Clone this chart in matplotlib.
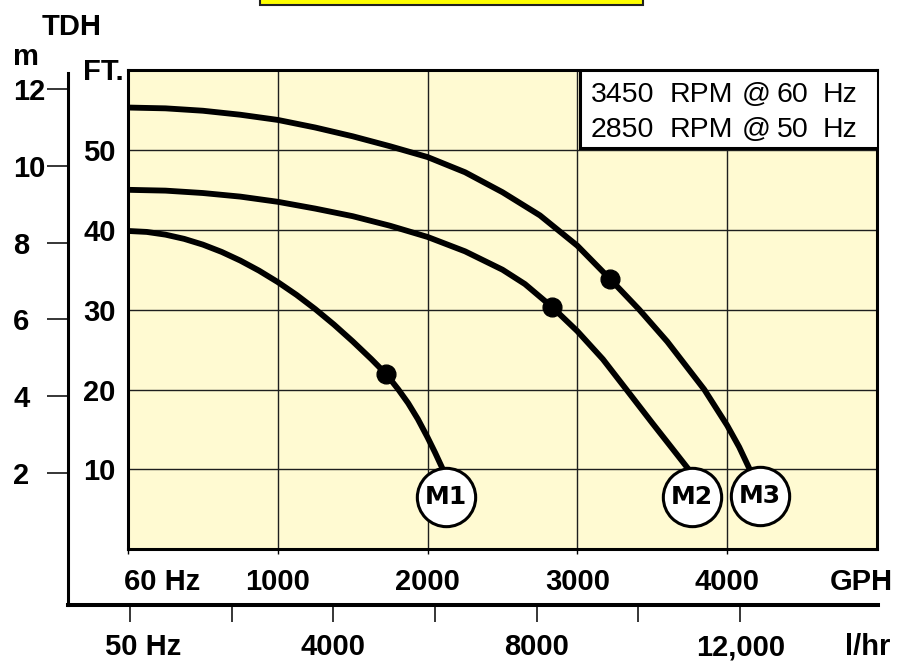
import matplotlib
matplotlib.use("Agg")
import matplotlib.pyplot as plt
import matplotlib.transforms as mtrans
from matplotlib.patches import Rectangle

# pump curves: flow (GPH) vs total head (FT)
m1_gph = [0, 125, 250, 375, 500, 625, 750, 875, 1000, 1125, 1250, 1375, 1500, 1625,
          1725, 1805, 1870, 1935, 2000, 2050, 2102]
m1_ft = [39.85, 39.73, 39.39, 38.86, 38.14, 37.23, 36.14, 34.88, 33.45, 31.85, 30.07,
         28.13, 26.03, 23.8, 21.9, 20.0, 18.3, 16.3, 14.0, 12.1, 10.0]

m2_gph = [0, 250, 500, 750, 1000, 1250, 1500, 1750, 2000, 2250, 2500, 2650, 2833, 3000,
          3170, 3327, 3500, 3630, 3747]
m2_ft = [45.0, 44.9, 44.6, 44.15, 43.5, 42.65, 41.7, 40.5, 39.1, 37.3, 35.0, 33.2, 30.3,
         27.3, 23.8, 20.0, 15.8, 12.7, 9.9]

m3_gph = [0, 250, 500, 750, 1000, 1250, 1500, 1750, 2000, 2250, 2500, 2750, 3000, 3110,
          3220, 3413, 3600, 3847, 4000, 4080, 4153]
m3_ft = [55.3, 55.2, 54.9, 54.4, 53.75, 52.8, 51.7, 50.45, 49.1, 47.2, 44.7, 41.8, 38.0,
         35.9, 33.8, 30.0, 26.0, 20.0, 15.5, 12.8, 9.9]

# rated points (dots)
dot_gph = [1725, 2833, 3220]
dot_ft = [21.9, 30.3, 33.8]

# model tags
tag_names = ["M1", "M2", "M3"]
tag_gph = [2122, 3763, 4220]
tag_ft = [6.6, 6.5, 6.7]

gph_ticks = [1000, 2000, 3000, 4000]
gph_labels = ["1000", "2000", "3000", "4000"]
ft_ticks = [10, 20, 30, 40, 50]
m_ticks = [2, 4, 6, 8, 10, 12]
lhr_ticks = [0, 2000, 4000, 6000, 8000, 10000, 12000]
lhr_labels = {4000: "4000", 8000: "8000", 12000: "12,000"}

legend_lines = [["3450", "RPM", "@", "60", "Hz"], ["2850", "RPM", "@", "50", "Hz"]]
legend_word_x = [591, 670, 742, 777, 823]
legend_base_y = [102, 137]

W, H = 901, 662
BG = "#fffad2"
LAB = "Liberation Sans"


def fx(px):
    return px / W


def fy(py):
    return 1 - py / H


fig = plt.figure(figsize=(W / 100, H / 100), dpi=100)
fig.patch.set_facecolor("white")

# yellow title box, cut off at the top
fig.patches.append(Rectangle((fx(260), fy(5)), fx(643) - fx(260), 30 / H,
                             transform=fig.transFigure, fc="#ffff00", ec="#222222", lw=1.5))

# outer axes: meter scale (left) and l/hr scale (bottom)
axm = fig.add_axes([fx(68), fy(605), fx(878) - fx(68), (605 - 72.7) / H], zorder=0)
axm.patch.set_visible(False)
axm.set_xlim(-1219, 14710)
axm.set_ylim(-1.453, 12.434)
axm.spines["top"].set_visible(False)
axm.spines["right"].set_visible(False)
axm.spines["left"].set_linewidth(2.2)
axm.spines["bottom"].set_linewidth(2.9)
axm.set_xticks(lhr_ticks)
axm.set_yticks(m_ticks)
axm.tick_params(axis="x", direction="out", length=12, width=1.1, labelbottom=False)
axm.tick_params(axis="y", direction="out", length=15, width=1.1, labelleft=False)

# main plot
ax = fig.add_axes([fx(128), fy(549.3), fx(877) - fx(128), (549.3 - 70) / H], zorder=2)
ax.set_facecolor(BG)
ax.set_xlim(0, 5000)
ax.set_ylim(0, 60)
for s in ax.spines.values():
    s.set_linewidth(2.2)
ax.set_xticks([0] + gph_ticks)
ax.set_yticks(ft_ticks)
ax.tick_params(axis="x", direction="out", length=3.5, width=1, labelbottom=False)
ax.tick_params(axis="y", length=0, labelleft=False)
ax.grid(True, color="#1e1e1e", lw=1.0, zorder=1)
ax.set_axisbelow(True)

for gx, gy in [(m1_gph, m1_ft), (m2_gph, m2_ft), (m3_gph, m3_ft)]:
    ax.plot(gx, gy, color="black", lw=4.2, solid_capstyle="butt",
            solid_joinstyle="round", zorder=3)
ax.plot(dot_gph, dot_ft, "o", color="black", ms=13.5, zorder=4)

for name, tx, ty in zip(tag_names, tag_gph, tag_ft):
    ax.plot([tx], [ty], "o", ms=42, mfc="white", mec="black", mew=2.2, zorder=5, clip_on=False)
    ax.text(tx, ty, name, ha="center", va="center", fontsize=18, fontweight="bold",
            family="DejaVu Sans", zorder=6)

# speed legend box
ax.add_patch(Rectangle((fx(580), fy(148)), fx(878) - fx(580), (148 - 70) / H,
                       transform=fig.transFigure, fc="white", ec="black", lw=2.2, zorder=7))
for words, by in zip(legend_lines, legend_base_y):
    for wd, wx in zip(words, legend_word_x):
        fig.text(fx(wx), fy(by), wd, ha="left", va="baseline", fontsize=20.5, family=LAB, zorder=8)

# axis labels
txt = dict(fontsize=21, fontweight="bold", family=LAB)
fig.text(fx(42), fy(35), "TDH", ha="left", va="baseline", **txt)
fig.text(fx(13), fy(65), "m", ha="left", va="baseline", **txt)
fig.text(fx(83), fy(80), "FT.", ha="left", va="baseline", **txt)

ft_tr = mtrans.offset_copy(mtrans.blended_transform_factory(fig.transFigure, ax.transData),
                           fig=fig, y=-11, units="dots")
for v in ft_ticks:
    fig.text(fx(83), v, str(v), ha="left", va="baseline", transform=ft_tr, **txt)

m_tr = mtrans.offset_copy(mtrans.blended_transform_factory(fig.transFigure, axm.transData),
                          fig=fig, y=-11, units="dots")
for v in m_ticks:
    fig.text(fx(13), v, str(v), ha="left", va="baseline", transform=m_tr, **txt)

gph_tr = mtrans.blended_transform_factory(ax.transData, fig.transFigure)
for v, lab in zip(gph_ticks, gph_labels):
    fig.text(v, fy(590), lab, ha="center", va="baseline", transform=gph_tr, **txt)
fig.text(fx(124), fy(590), "60 Hz", ha="left", va="baseline", **txt)
fig.text(fx(893), fy(590), "GPH", ha="right", va="baseline", **txt)

lhr_tr = mtrans.blended_transform_factory(axm.transData, fig.transFigure)
for v, lab in lhr_labels.items():
    fig.text(v, fy(655), lab, ha="center", va="baseline", transform=lhr_tr, **txt)
fig.text(fx(105), fy(655), "50 Hz", ha="left", va="baseline", **txt)
fig.text(fx(890), fy(655), "l/hr", ha="right", va="baseline", **txt)

fig.savefig("out.png", dpi=100)
